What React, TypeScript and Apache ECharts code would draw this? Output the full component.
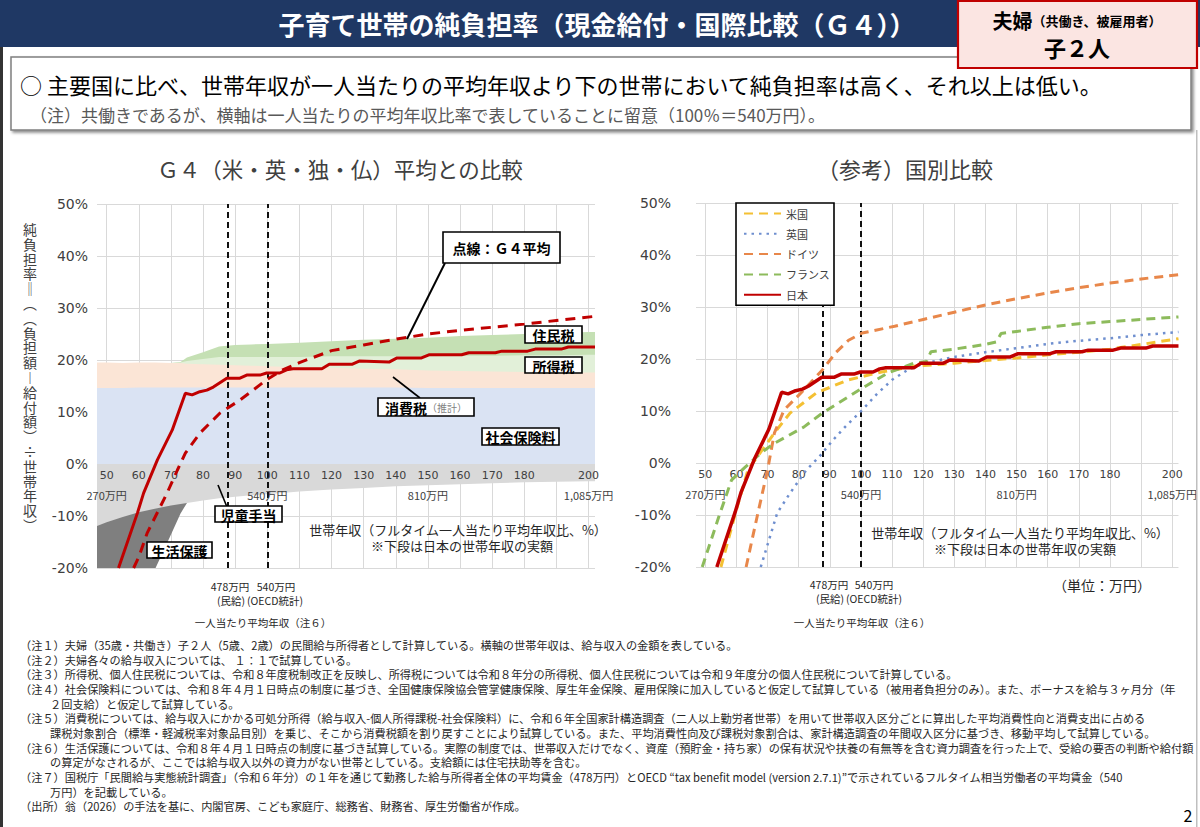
import React, { useEffect, useRef } from 'react';
import * as echarts from 'echarts';

const JP = '"Noto Sans CJK JP","Noto Sans",sans-serif';
const NUM = '"DejaVu Sans","Noto Sans",sans-serif';

// ---------- data ----------
const xTicks = [50, 60, 70, 80, 90, 100, 110, 120, 130, 140, 150, 160, 170, 180, 190, 200];
const xSubTicks = [50, 100, 150, 200];
const xSubText = ['270万円', '540万円', '810万円', '1,085万円'];
const avgWageX = [87.6, 100];

// components of Japan's net burden (left chart)
const stackX = [47, 50, 55, 60, 65, 70, 73, 75, 80, 85, 90, 95, 100, 110, 120, 130, 140, 150, 160, 170, 180, 190, 200, 202];
const socialInsurance = [14.6, 14.6, 14.6, 14.7, 14.7, 14.7, 14.7, 14.7, 14.7, 14.7, 14.7, 14.7, 14.7, 14.7, 14.7, 14.7, 14.7, 14.6, 14.6, 14.6, 14.6, 14.6, 14.6, 14.6];
const consumptionTax = [4.9, 4.9, 4.8, 4.8, 4.8, 4.7, 4.7, 4.6, 4.5, 4.4, 4.3, 4.2, 4.1, 3.9, 3.8, 3.6, 3.5, 3.4, 3.3, 3.2, 3.1, 3.0, 3.0, 3.0];
const incomeTax = [0, 0, 0, 0, 0, 0, 0.1, 0.5, 1.0, 1.5, 1.6, 1.7, 1.8, 2.0, 2.2, 2.4, 2.5, 2.7, 2.9, 3.0, 3.2, 3.3, 3.4, 3.4];
const residentTax = [0, 0, 0, 0, 0, 0, 0.1, 0.7, 1.3, 2.0, 2.3, 2.4, 2.5, 2.7, 2.9, 3.2, 3.4, 3.6, 3.8, 4.0, 4.1, 4.3, 4.4, 4.4];
const childAllowance = [-11.9, -11.2, -10.2, -9.3, -8.6, -8.0, -7.7, -7.5, -7.0, -6.6, -6.3, -6.0, -5.8, -5.3, -4.9, -4.6, -4.3, -4.1, -3.9, -3.7, -3.5, -3.4, -3.3, -3.3];
const publicAssistance = [-37, -34, -26.8, -19.6, -11.7, -5.6, -1.8, 0, 0, 0, 0, 0, 0, 0, 0, 0, 0, 0, 0, 0, 0, 0, 0, 0];

// Japan net burden rate
const jpX = [53.7, 59.6, 61.5, 65.8, 70.4, 74.5, 76.6, 79, 81.2, 83.2, 87.4, 91.5, 93.6, 97.7, 99.8, 103.9, 106, 108, 117, 119.3, 126.5, 128.6, 137.9, 140.4, 148, 150.3, 160.5, 162.7, 171, 173, 181, 183.4, 191.5, 193.7, 202];
const jpY = [-20, -9.4, -5.6, 0.8, 6.5, 13.6, 13.3, 13.9, 14.2, 14.8, 16.5, 16.5, 17.1, 17.1, 17.5, 17.5, 18.1, 18.3, 18.3, 19.2, 19.2, 19.8, 19.6, 20.4, 20.4, 21.0, 21.0, 21.4, 21.4, 21.7, 21.7, 22.1, 22.1, 22.5, 22.5];

// G4 average
const g4X = [58.4, 60, 62.6, 68.8, 72, 74.5, 79.1, 85.3, 91.5, 99.8, 104.8, 110, 120, 130, 140, 150, 160, 170, 180, 190, 202];
const g4Y = [-20, -17.9, -13.3, -5.6, -1.2, 2.1, 6, 9.8, 12.3, 16.2, 18.1, 19.5, 21.8, 22.9, 24.0, 25.0, 25.7, 26.3, 26.9, 27.6, 28.4];

// countries (right chart)
const usX = [55, 59.7, 63.7, 69, 72.2, 77.2, 85.7, 96, 106.6, 117, 130, 140, 150, 160, 170, 180, 190, 202];
const usY = [-20, -9.6, -1.3, 3.1, 5.8, 9.6, 13.5, 16, 17.5, 18.6, 19.2, 19.7, 20.2, 20.8, 21.3, 21.9, 22.8, 23.9];
const ukX = [67.8, 73.1, 77.2, 82.5, 86.6, 91, 95, 100.4, 105, 110, 115, 120, 130, 140, 150, 160, 170, 180, 190, 202];
const ukY = [-20, -9.6, -5.8, -1.3, 1.2, 4.4, 7.0, 10.2, 13.2, 16.0, 17.9, 19.1, 20.4, 21.3, 22.1, 22.9, 23.5, 24.0, 24.6, 25.2];
const deX = [63.1, 66.9, 70, 72.2, 75.3, 81.6, 87.6, 92, 96, 100.4, 110.8, 120, 130, 140, 150, 160, 170, 180, 190, 202];
const deY = [-20, -9.6, -1.3, 5.8, 10.2, 14, 17.9, 21.3, 23.6, 25, 26.3, 27.6, 29.0, 30.4, 31.6, 32.7, 33.7, 34.6, 35.4, 36.2];
const frX = [49, 54.3, 58.4, 62.8, 67.8, 72.2, 81.6, 87.6, 100.4, 108.6, 117, 121, 122.5, 130, 140, 143.5, 145, 150, 160, 170, 180, 190, 202];
const frY = [-20, -10.4, -3.3, -0.8, 1.9, 3.8, 6.9, 9.6, 14.4, 17.3, 19.2, 19.5, 21.4, 21.9, 22.8, 23.3, 24.9, 25.3, 26.1, 26.8, 27.2, 27.6, 28.1];

const notes = [
  [0, '（注１）夫婦（35歳・共働き）子２人（5歳、2歳）の民間給与所得者として計算している。横軸の世帯年収は、給与収入の金額を表している。'],
  [0, '（注２）夫婦各々の給与収入については、 １：１で試算している。'],
  [0, '（注３）所得税、個人住民税については、令和８年度税制改正を反映し、所得税については令和８年分の所得税、個人住民税については令和９年度分の個人住民税について計算している。'],
  [0, '（注４）社会保険料については、令和８年４月１日時点の制度に基づき、全国健康保険協会管掌健康保険、厚生年金保険、雇用保険に加入していると仮定して試算している（被用者負担分のみ）。また、ボーナスを給与３ヶ月分（年'],
  [1, '２回支給）と仮定して試算している。'],
  [0, '（注５）消費税については、給与収入にかかる可処分所得（給与収入-個人所得課税-社会保険料）に、令和６年全国家計構造調査（二人以上勤労者世帯）を用いて世帯収入区分ごとに算出した平均消費性向と消費支出に占める'],
  [1, '課税対象割合（標準・軽減税率対象品目別）を乗じ、そこから消費税額を割り戻すことにより試算している。また、平均消費性向及び課税対象割合は、家計構造調査の年間収入区分に基づき、移動平均して試算している。'],
  [0, '（注６）生活保護については、令和８年４月１日時点の制度に基づき試算している。実際の制度では、世帯収入だけでなく、資産（預貯金・持ち家）の保有状況や扶養の有無等を含む資力調査を行った上で、受給の要否の判断や給付額'],
  [1, 'の算定がなされるが、ここでは給与収入以外の資力がない世帯としている。支給額には住宅扶助等を含む。'],
  [0, '（注７）国税庁「民間給与実態統計調査」（令和６年分）の１年を通じて勤務した給与所得者全体の平均賃金（478万円）とOECD “tax benefit model (version 2.7.1)”で示されているフルタイム相当労働者の平均賃金（540'],
  [1, '万円）を記載している。'],
  [0, '（出所）翁（2026）の手法を基に、内閣官房、こども家庭庁、総務省、財務省、厚生労働省が作成。'],
];

// vertical-writing forms of 純負担率＝（（負担額ー給付額）÷世帯年収）
const yAxisName = '純負担率‖︵︵負担額︱給付額︶÷世帯年収︶';

// ---------- helpers ----------
const pairs = (xs: number[], ys: number[]) => xs.map((x, i) => [x, ys[i]]);
const addArr = (...arrs: number[][]) => arrs[0].map((_, i) => arrs.reduce((s, a) => s + a[i], 0));

const xLabelFormatter = (v: number) => {
  const k = xSubTicks.indexOf(v);
  return k >= 0 ? `{n|${v}}\n{s|${xSubText[k]}}` : `{n|${v}}`;
};

const xLabelStyle = (show: boolean) => ({
  show,
  customValues: xTicks,
  margin: -103, // labels sit just under the 0% line, inside the plot (as in the original)
  showMinLabel: true,
  showMaxLabel: true,
  hideOverlap: false,
  formatter: xLabelFormatter,
  rich: {
    n: { fontFamily: NUM, fontSize: 11, color: '#404040', lineHeight: 20 },
    s: { fontFamily: JP, fontSize: 11, color: '#404040', lineHeight: 20 },
  },
});

const makeX = (gi: number, showLabels: boolean, showSplit: boolean, z: number) => ({
  type: 'value',
  gridIndex: gi,
  position: 'bottom',
  min: 47,
  max: 202,
  z,
  axisLine: { show: false, onZero: false },
  axisTick: { show: false, customValues: xTicks },
  splitLine: { show: showSplit, lineStyle: { color: '#d9d9d9', width: 1 } },
  axisLabel: xLabelStyle(showLabels),
});

const makeY = (gi: number, margin: number) => ({
  type: 'value',
  gridIndex: gi,
  min: -20,
  max: 50,
  interval: 10,
  axisLine: { show: false },
  axisTick: { show: false },
  splitLine: { show: true, lineStyle: { color: '#d9d9d9', width: 1 } },
  axisLabel: { formatter: '{value}%', fontSize: 14, color: '#404040', fontFamily: NUM, margin },
});

// area filled from 0 to the cumulative value; drawn back-to-front so nearer bands cover farther ones
const areaSeries = (name: string, xs: number[], vals: number[], color: string, z: number) => ({
  name,
  type: 'line',
  xAxisIndex: 0,
  yAxisIndex: 0,
  data: pairs(xs, vals),
  symbol: 'none',
  showSymbol: false,
  silent: true,
  lineStyle: { width: 0, opacity: 0 },
  areaStyle: { color, opacity: 1, origin: 0 },
  z,
});

const lineSeries = (name: string, gi: number, xs: number[], ys: number[], color: string, width: number, type: any) => ({
  name,
  type: 'line',
  xAxisIndex: gi,
  yAxisIndex: gi,
  data: pairs(xs, ys),
  symbol: 'none',
  showSymbol: false,
  lineStyle: { color, width, type },
  itemStyle: { color },
  z: 12,
});

const vLines = (gi: number) => ({
  name: 'vline' + gi,
  type: 'line',
  xAxisIndex: gi,
  yAxisIndex: gi,
  data: [],
  symbol: 'none',
  z: 13,
  markLine: {
    silent: true,
    symbol: ['none', 'none'],
    label: { show: false },
    lineStyle: { color: '#111', width: 2, type: [6, 4] },
    data: avgWageX.map((x) => ({ xAxis: x })),
  },
});

const txt = (x: number, y: number, text: string, fontSize: number, extra: any = {}) => ({
  type: 'text',
  x,
  y,
  z: 50,
  style: {
    text,
    fontSize,
    fontFamily: JP,
    fill: '#262626',
    align: 'center',
    verticalAlign: 'middle',
    ...extra,
  },
});

const callout = (x: number, y: number, w: number, h: number, text: string, fontSize = 14, rich?: any) => ({
  type: 'group',
  z: 60,
  children: [
    { type: 'rect', shape: { x, y, width: w, height: h }, style: { fill: '#fff', stroke: '#000', lineWidth: 1.6 }, z: 60 },
    {
      type: 'text',
      x: x + w / 2,
      y: y + h / 2 + 0.5,
      z: 61,
      style: { text, fontSize, fontWeight: 'bold', fontFamily: JP, fill: '#000', align: 'center', verticalAlign: 'middle', rich },
    },
  ],
});

const leader = (x1: number, y1: number, x2: number, y2: number, w = 1.6) => ({
  type: 'line',
  z: 59,
  shape: { x1, y1, x2, y2 },
  style: { stroke: '#000', lineWidth: w },
});

export default function App() {
  const ref = useRef<HTMLDivElement>(null);

  useEffect(() => {
    if (!ref.current) return;
    const chart = echarts.init(ref.current, null, { renderer: 'svg' });

    // cumulative bands
    const top1 = socialInsurance;
    const top2 = addArr(socialInsurance, consumptionTax);
    const top3 = addArr(socialInsurance, consumptionTax, incomeTax);
    const top4 = addArr(socialInsurance, consumptionTax, incomeTax, residentTax);
    const neg1 = childAllowance;
    const neg2 = addArr(childAllowance, publicAssistance);
    const taxStart = incomeTax.findIndex((v) => v > 0) - 1;
    const paEnd = publicAssistance.findIndex((v) => v === 0);
    const taxX = stackX.slice(taxStart);
    const paX = stackX.slice(0, paEnd + 1);

    const graphics: any[] = [
      // slide frame
      { type: 'rect', z: 40, shape: { x: 0, y: 47, width: 3, height: 780 }, style: { fill: '#333' } },
      { type: 'rect', z: 40, shape: { x: 1196, y: 130, width: 1.5, height: 697 }, style: { fill: '#bfbfbf' } },
      // header bar
      { type: 'rect', z: 40, shape: { x: 0, y: 0, width: 1200, height: 47 }, style: { fill: '#1f3864' } },
      txt(597, 23, '子育て世帯の純負担率（現金給付・国際比較（Ｇ４））', 26, { fill: '#fff', fontWeight: 'bold' }),
      { type: 'rect', z: 45, shape: { x: 958, y: 1, width: 239, height: 67 }, style: { fill: '#fbe5e2', stroke: '#c00000', lineWidth: 2.2 } },
      {
        type: 'text', x: 1077, y: 20, z: 50,
        style: {
          text: '{a|夫婦}{b|（共働き、被雇用者）}', align: 'center', verticalAlign: 'middle', fill: '#000',
          rich: {
            a: { fontSize: 20, fontWeight: 'bold', fontFamily: JP, fill: '#000' },
            b: { fontSize: 13, fontWeight: 'bold', fontFamily: JP, fill: '#000' },
          },
        },
      },
      txt(1077, 47, '子２人', 22, { fill: '#000', fontWeight: 'bold' }),
      // summary box
      {
        type: 'rect', z: 40, shape: { x: 11, y: 57, width: 1180, height: 73 },
        style: { fill: '#fff', stroke: '#7f7f7f', lineWidth: 1.5, shadowBlur: 3, shadowOffsetX: 2, shadowOffsetY: 2, shadowColor: 'rgba(0,0,0,0.45)' },
      },
      txt(20, 84, '○ 主要国に比べ、世帯年収が一人当たりの平均年収より下の世帯において純負担率は高く、それ以上は低い。', 22, { align: 'left', fill: '#000' }),
      txt(30, 114, '（注）共働きであるが、横軸は一人当たりの平均年収比率で表していることに留意（100％＝540万円）。', 17, { align: 'left', fill: '#595959' }),
      // chart titles
      txt(340, 168, 'Ｇ４（米・英・独・仏）平均との比較', 21.5, { fill: '#404040' }),
      txt(905, 168, '（参考）国別比較', 22, { fill: '#404040' }),
      // vertical y-axis title
      txt(30, 377, yAxisName.split('').join('\n'), 14, { fill: '#404040', lineHeight: 14.8 }),
      // x axis titles
      txt(458, 529, '世帯年収（フルタイム一人当たり平均年収比、%）', 13),
      txt(462, 545, '※下段は日本の世帯年収の実額', 13),
      txt(1020, 532, '世帯年収（フルタイム一人当たり平均年収比、%）', 13),
      txt(1025, 548, '※下段は日本の世帯年収の実額', 13),
      txt(1102, 585, '（単位：万円）', 14),
      // wage markers below charts
      txt(230, 586, '478万円', 10.5),
      txt(276, 586, '540万円', 10.5),
      txt(231, 600, '(民給)', 10.5),
      txt(275, 600, '(OECD統計)', 10.5),
      txt(263, 622, '一人当たり平均年収（注６）', 10.5),
      txt(829, 584, '478万円', 10.5),
      txt(874, 584, '540万円', 10.5),
      txt(830, 598, '(民給)', 10.5),
      txt(874, 598, '(OECD統計)', 10.5),
      txt(862, 622, '一人当たり平均年収（注６）', 10.5),
      // callouts on the left chart
      leader(445, 263, 407, 339, 2),
      callout(443, 232, 117, 31, '点線：Ｇ４平均', 14),
      callout(525, 326, 57, 17, '住民税', 14),
      callout(525, 357, 57, 16, '所得税', 14),
      leader(393, 377, 420, 398),
      callout(378, 398, 96, 18, '{a|消費税}{b|（推計）}', 14, {
        a: { fontSize: 14, fontWeight: 'bold', fontFamily: JP, fill: '#000' },
        b: { fontSize: 10, fontFamily: JP, fill: '#7f7f7f' },
      }),
      callout(482, 428, 77, 17, '社会保険料', 14),
      leader(218, 485, 227, 507),
      callout(215, 506, 67, 16, '児童手当', 14),
      callout(147, 542, 65, 16, '生活保護', 14),
      // page number
      txt(1188, 815, '2', 16, { fill: '#000' }),
    ];

    notes.forEach((n, i) => {
      graphics.push(txt(n[0] ? 50 : 20, 645 + i * 14.65, n[1] as string, 11.2, { align: 'left', fill: '#262626' }));
    });

    const option: any = {
      animation: false,
      backgroundColor: '#fff',
      textStyle: { fontFamily: JP },
      grid: [
        { left: 97, top: 204, width: 498, height: 364 },
        { left: 696, top: 203, width: 494, height: 364 },
      ],
      xAxis: [
        makeX(0, false, true, 0), // left: gridlines under the bands
        makeX(1, true, true, 0), // right
        makeX(0, true, false, 10), // left: tick labels over the bands
      ],
      yAxis: [makeY(0, 9), makeY(1, 25)],
      legend: {
        data: ['米国', '英国', 'ドイツ', 'フランス', '日本'],
        orient: 'vertical',
        left: 736,
        top: 203,
        itemWidth: 37,
        itemHeight: 12,
        itemGap: 9.3,
        padding: [5, 4, 5, 7],
        borderColor: '#000',
        borderWidth: 1.6,
        backgroundColor: '#fff',
        selectedMode: false,
        itemStyle: { opacity: 0, borderWidth: 0 },
        textStyle: { fontSize: 11, color: '#404040', fontFamily: JP },
        z: 20,
      },
      graphic: graphics,
      series: [
        areaSeries('住民税', taxX, top4.slice(taxStart), '#c5e0b4', 1),
        areaSeries('所得税', taxX, top3.slice(taxStart), '#e2f0d9', 1.1),
        areaSeries('消費税', stackX, top2, '#fbe5d6', 1.2),
        areaSeries('社会保険料', stackX, top1, '#dae3f3', 1.3),
        areaSeries('生活保護', paX, neg2.slice(0, paEnd + 1), '#7f7f7f', 1),
        areaSeries('児童手当', stackX, neg1, '#d9d9d9', 1.1),
        lineSeries('G4平均', 0, g4X, g4Y, '#c00000', 3, [10, 7]),
        lineSeries('日本（左）', 0, jpX, jpY, '#c00000', 3, 'solid'),
        vLines(0),
        lineSeries('米国', 1, usX, usY, '#f4c033', 3, [9, 6]),
        lineSeries('英国', 1, ukX, ukY, '#6f8fcf', 2.5, [2.5, 5]),
        lineSeries('ドイツ', 1, deX, deY, '#e8874a', 3, [9, 6]),
        lineSeries('フランス', 1, frX, frY, '#8dbb5c', 3, [9, 6]),
        lineSeries('日本', 1, jpX, jpY, '#c00000', 3.5, 'solid'),
        vLines(1),
      ],
    };

    chart.setOption(option);
    return () => chart.dispose();
  }, []);

  return <div ref={ref} style={{ position: 'absolute', left: 0, top: 0, width: 1200, height: 827 }} />;
}
